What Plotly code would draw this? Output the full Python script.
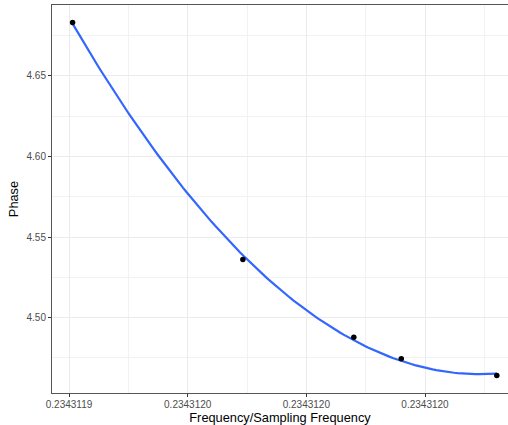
import numpy as np
import plotly.graph_objects as go

# Data
freq = [0.2343119406, 0.2343119693, 0.2343119880, 0.2343119960, 0.2343120121]
phase = [4.6831, 4.5360, 4.4878, 4.4744, 4.4640]

x_ticks = [0.23431194, 0.23431196, 0.23431198, 0.23431200]
x_ticklabels = ["0.2343119", "0.2343120", "0.2343120", "0.2343120"]
y_ticks = [4.50, 4.55, 4.60, 4.65]
y_ticklabels = ["4.50", "4.55", "4.60", "4.65"]

# Smooth curve (quadratic least-squares fit, computed from data)
x0 = freq[0]
xs = (np.array(freq) - x0) * 1e8
coef = np.polyfit(xs, np.array(phase), 2)
grid = np.linspace(xs.min(), xs.max(), 120)
curve_x = grid / 1e8 + x0
curve_y = np.polyval(coef, grid)

fig = go.Figure()
fig.add_trace(go.Scatter(x=curve_x, y=curve_y, mode="lines",
                         line=dict(color="#3366FF", width=2.2), hoverinfo="skip"))
fig.add_trace(go.Scatter(x=freq, y=phase, mode="markers", cliponaxis=False,
                         marker=dict(color="black", size=5.5)))

font_family = "Liberation Sans, Arial, sans-serif"
fig.update_layout(
    width=508, height=425,
    margin=dict(l=52, r=0, t=5, b=32, autoexpand=False),
    paper_bgcolor="white", plot_bgcolor="white",
    showlegend=False,
    font=dict(family=font_family, color="black"),
    xaxis=dict(
        range=[0.23431194 - 0.1433 * 2e-8, 0.23431194 + 3.6993 * 2e-8],
        tickvals=x_ticks, ticktext=x_ticklabels,
        ticks="outside", ticklen=3, tickwidth=1, tickcolor="#333333",
        tickfont=dict(size=10, color="#4D4D4D"), ticklabelstandoff=-1,
        showgrid=True, gridcolor="#EBEBEB", gridwidth=1.1,
        minor=dict(dtick=2e-8, tick0=0.23431195, showgrid=True, gridcolor="#F2F2F2", gridwidth=0.6, ticks=""),
        showline=True, linecolor="#555555", linewidth=1, mirror=True,
        zeroline=False, automargin=False,
        title=dict(text="Frequency/Sampling Frequency", font=dict(size=12.8, color="black"), standoff=2),
    ),
    yaxis=dict(
        range=[4.4532, 4.6940],
        tickvals=y_ticks, ticktext=y_ticklabels,
        ticks="outside", ticklen=3, tickwidth=1, tickcolor="#333333",
        tickfont=dict(size=10, color="#4D4D4D"),
        showgrid=True, gridcolor="#EBEBEB", gridwidth=1.1,
        minor=dict(dtick=0.05, tick0=4.475, showgrid=True, gridcolor="#F2F2F2", gridwidth=0.6, ticks=""),
        showline=True, linecolor="#555555", linewidth=1, mirror=False,
        zeroline=False, automargin=False,
        title=dict(text="Phase", font=dict(size=12.8, color="black"), standoff=5),
    ),
)

fig.write_html("out.html", config={"displayModeBar": False},
               post_script="document.body.style.margin='0';")
